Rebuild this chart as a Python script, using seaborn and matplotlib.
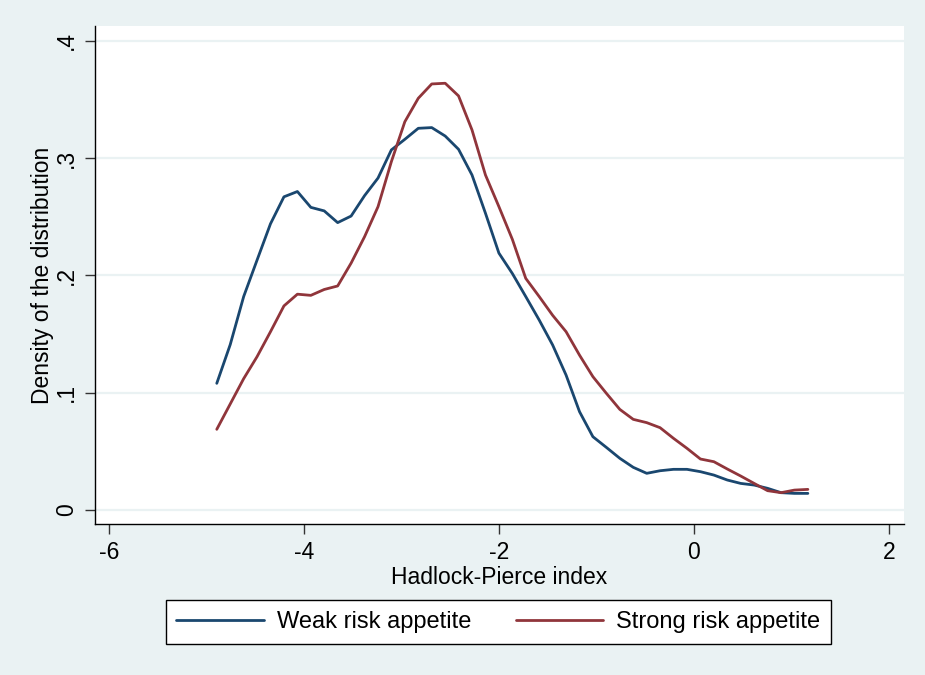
import matplotlib
matplotlib.use("Agg")
import matplotlib.pyplot as plt
import seaborn as sns
import pandas as pd

# Evaluation grid (Hadlock-Pierce index)
hp_index = [-4.895, -4.757, -4.619, -4.482, -4.344, -4.206, -4.068, -3.930, -3.793, -3.655,
            -3.517, -3.379, -3.241, -3.104, -2.966, -2.828, -2.690, -2.552, -2.415, -2.277,
            -2.139, -2.001, -1.863, -1.726, -1.588, -1.450, -1.312, -1.174, -1.037, -0.899,
            -0.761, -0.623, -0.485, -0.348, -0.210, -0.072, 0.066, 0.204, 0.341, 0.479,
            0.617, 0.755, 0.893, 1.030, 1.168]

weak_density = [0.108, 0.141, 0.182, 0.213, 0.244, 0.267, 0.2715, 0.258, 0.255, 0.245,
                0.2506, 0.268, 0.283, 0.307, 0.316, 0.3254, 0.326, 0.3188, 0.3075, 0.2856,
                0.253, 0.219, 0.2016, 0.182, 0.162, 0.1407, 0.115, 0.0838, 0.0625, 0.0534,
                0.0441, 0.0364, 0.0313, 0.0335, 0.0347, 0.0347, 0.0327, 0.0298, 0.0256, 0.0227,
                0.0213, 0.0185, 0.0148, 0.0142, 0.0142]

strong_density = [0.0688, 0.0904, 0.112, 0.1307, 0.152, 0.174, 0.184, 0.183, 0.188, 0.191,
                  0.2105, 0.233, 0.2586, 0.297, 0.331, 0.351, 0.3632, 0.3638, 0.353, 0.324,
                  0.2856, 0.2586, 0.2307, 0.1975, 0.182, 0.166, 0.152, 0.132, 0.1137, 0.0995,
                  0.0858, 0.0773, 0.0745, 0.0702, 0.0611, 0.0526, 0.0435, 0.0412, 0.035, 0.029,
                  0.0227, 0.0165, 0.0148, 0.017, 0.0176]

series_names = ["Weak risk appetite", "Strong risk appetite"]
x_ticks = [-6, -4, -2, 0, 2]
y_ticks = [0, 0.1, 0.2, 0.3, 0.4]
y_tick_labels = ["0", ".1", ".2", ".3", ".4"]

df = pd.concat([
    pd.DataFrame({"x": hp_index, "y": weak_density, "group": series_names[0]}),
    pd.DataFrame({"x": hp_index, "y": strong_density, "group": series_names[1]}),
], ignore_index=True)

sns.set_theme(style="white")
plt.rcParams["font.family"] = ["Liberation Sans", "DejaVu Sans"]
plt.rcParams["text.color"] = "black"
plt.rcParams["axes.labelcolor"] = "black"

bg = "#EAF2F3"
fs = 16.5
fig = plt.figure(figsize=(9.25, 6.75), dpi=100, facecolor=bg)
ax = fig.add_axes([95 / 925, 1 - 524 / 675, (904 - 95) / 925, (524 - 26) / 675])
ax.set_facecolor("white")

sns.lineplot(data=df, x="x", y="y", hue="group", hue_order=series_names,
             palette=["#1A476F", "#90353B"], linewidth=2.0, ax=ax, legend=False,
             sort=False, zorder=3)

ax.set_xlim(-6.144, 2.154)
ax.set_ylim(-0.0119, 0.4126)
ax.set_xticks(x_ticks)
ax.set_xticklabels([str(t) for t in x_ticks])
ax.set_yticks(y_ticks)
ax.set_yticklabels(y_tick_labels, rotation=90, va="center")

for yv in y_ticks:
    ax.axhline(yv, color=bg, linewidth=1.6, zorder=1)

for side in ["top", "right"]:
    ax.spines[side].set_visible(False)
for side in ["left", "bottom"]:
    ax.spines[side].set_visible(True)
    ax.spines[side].set_color("black")
    ax.spines[side].set_linewidth(1.0)

ax.tick_params(axis="both", which="major", direction="out", length=7, width=1.0,
               color="#333333", labelsize=fs, labelcolor="black", pad=5,
               left=True, bottom=True)

ax.set_xlabel("Hadlock-Pierce index", fontsize=fs, labelpad=2, color="black")
ax.set_ylabel("Density of the distribution", fontsize=fs, labelpad=1, color="black")

handles = [plt.Line2D([], [], color="#1A476F", linewidth=2.0),
           plt.Line2D([], [], color="#90353B", linewidth=2.0)]
leg = fig.legend(handles, series_names, ncol=2, loc="center",
                 bbox_to_anchor=(498.5 / 925, 1 - 622 / 675),
                 frameon=True, fancybox=False, edgecolor="black", facecolor="white",
                 fontsize=17, handlelength=3.7, handletextpad=0.55,
                 columnspacing=1.9, borderpad=0.45, framealpha=1)
leg.get_frame().set_linewidth(1.0)
for t in leg.get_texts():
    t.set_color("black")

fig.savefig("out.png", dpi=100, facecolor=bg)
